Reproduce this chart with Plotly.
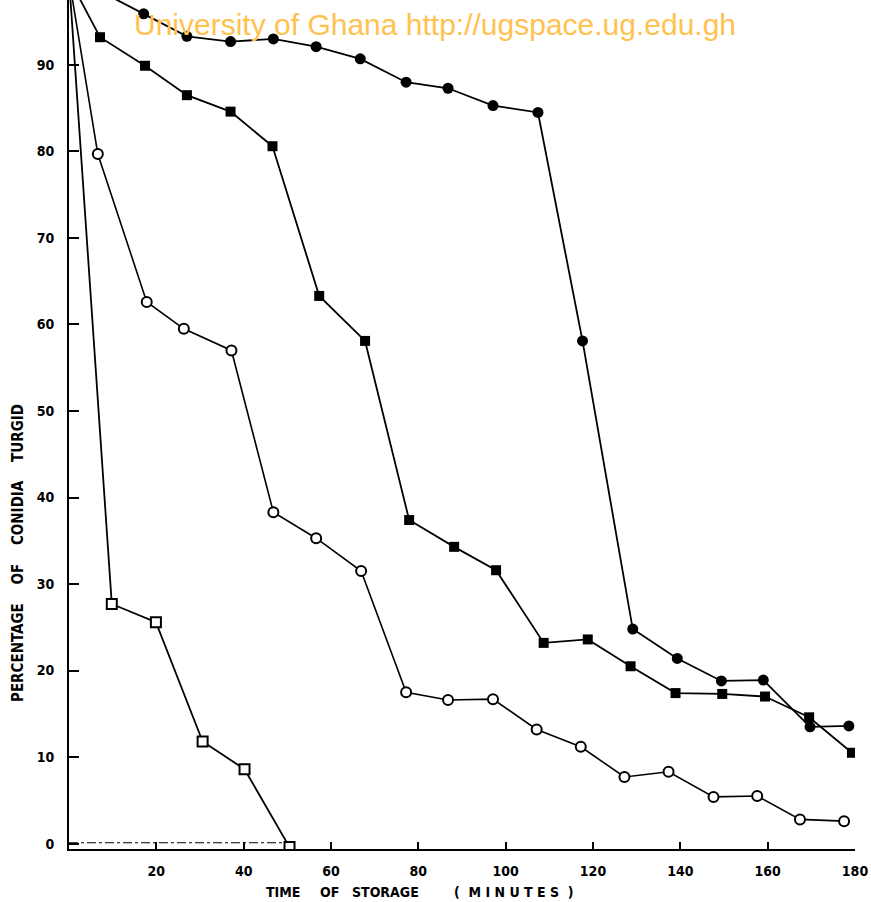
import plotly.graph_objects as go

# ---- data ----
fc_x = [0, 7.2, 17.1, 27.0, 37.0, 46.8, 56.6, 66.7, 77.2, 86.8, 97.1, 107.4, 117.6, 129.1, 139.3, 149.4, 159.0, 169.7, 178.6]
fc_y = [100, 98.5, 95.9, 93.3, 92.7, 93.0, 92.1, 90.7, 88.0, 87.3, 85.3, 84.5, 58.1, 24.8, 21.4, 18.8, 18.9, 13.5, 13.6]

fs_x = [0, 7.1, 17.4, 27.0, 37.0, 46.6, 57.3, 67.8, 77.9, 88.2, 97.8, 108.7, 118.8, 128.6, 138.9, 149.6, 159.4, 169.5, 179.3]
fs_y = [100, 93.2, 89.9, 86.5, 84.6, 80.6, 63.3, 58.1, 37.4, 34.3, 31.6, 23.2, 23.6, 20.5, 17.4, 17.3, 17.0, 14.6, 10.5]

oc_x = [0, 6.6, 17.8, 26.3, 37.2, 46.8, 56.6, 66.9, 77.2, 86.8, 97.1, 107.1, 117.2, 127.2, 137.3, 147.6, 157.6, 167.4, 177.5]
oc_y = [100, 79.7, 62.6, 59.5, 57.0, 38.3, 35.3, 31.5, 17.5, 16.6, 16.7, 13.2, 11.2, 7.7, 8.3, 5.4, 5.5, 2.8, 2.6]

os_x = [0, 9.8, 19.9, 30.6, 40.2, 50.5]
os_y = [100, 27.7, 25.6, 11.8, 8.6, -0.4]

base_x = [0, 51]
base_y = [0.1, 0.1]

x_ticks = [20, 40, 60, 80, 100, 120, 140, 160, 180]
y_ticks = [0, 10, 20, 30, 40, 50, 60, 70, 80, 90]

FONT = "DejaVu Sans Condensed"
L, R, T, B = 69, 16, 0, 53
W, H = 871, 902
PW, PH = W - L - R, H - T - B

fig = go.Figure()

fig.add_trace(go.Scatter(x=base_x, y=base_y, mode="lines",
                         line=dict(color="black", width=1.2, dash="dashdot"),
                         hoverinfo="skip", showlegend=False))

fig.add_trace(go.Scatter(x=fc_x, y=fc_y, mode="lines+markers",
                         line=dict(color="black", width=1.8),
                         marker=dict(symbol="circle", size=11, color="black"),
                         showlegend=False))
fig.add_trace(go.Scatter(x=fs_x, y=fs_y, mode="lines+markers",
                         line=dict(color="black", width=1.8),
                         marker=dict(symbol="square", size=10, color="black"),
                         showlegend=False))
fig.add_trace(go.Scatter(x=oc_x, y=oc_y, mode="lines+markers",
                         line=dict(color="black", width=1.6),
                         marker=dict(symbol="circle", size=10, color="white",
                                     line=dict(color="black", width=2)),
                         showlegend=False))
fig.add_trace(go.Scatter(x=os_x, y=os_y, mode="lines+markers",
                         line=dict(color="black", width=1.8),
                         marker=dict(symbol="square", size=10, color="white",
                                     line=dict(color="black", width=2)),
                         showlegend=False))

fig.update_layout(
    width=W, height=H,
    margin=dict(l=L, r=R, t=T, b=B, autoexpand=False),
    paper_bgcolor="white", plot_bgcolor="white",
    xaxis=dict(range=[0, 180], tickvals=x_ticks, ticktext=[str(v) for v in x_ticks],
               showgrid=False, zeroline=False, showline=True, linecolor="black", linewidth=2,
               ticks="inside", ticklen=7, tickwidth=2, tickcolor="black",
               tickfont=dict(family=FONT, size=14, color="black", weight="bold"),
               ticklabelstandoff=8, automargin=False),
    yaxis=dict(range=[-0.62, 97.5], tickvals=y_ticks, ticktext=[str(v) for v in y_ticks],
               showgrid=False, zeroline=False, showline=True, linecolor="black", linewidth=2,
               ticks="inside", ticklen=10, tickwidth=2, tickcolor="black",
               tickfont=dict(family=FONT, size=14, color="black", weight="bold"),
               ticklabelstandoff=10, automargin=False),
)


def px_x(p):
    return (p - L) / PW


def px_y(p):
    return 1 - (p - T) / PH


nb = "\u00a0"
title_font = dict(family=FONT, size=14, color="black", weight="bold")
for word, left in [("TIME", 264), ("OF", 318), ("STORAGE", 350),
                   ("(" + nb * 2 + nb.join("MINUTES") + nb * 2 + ")", 452)]:
    fig.add_annotation(text=word, xref="paper", yref="paper", x=px_x(left), y=px_y(892),
                       xanchor="left", yanchor="middle", showarrow=False, font=title_font)

ytitle = "PERCENTAGE" + nb * 4 + "OF" + nb * 4 + "CONIDIA" + nb * 4 + "TURGID"
fig.add_annotation(text=ytitle, xref="paper", yref="paper", x=px_x(18), y=px_y(553),
                   xanchor="center", yanchor="middle", textangle=-90, showarrow=False,
                   font=dict(family=FONT, size=15, color="black", weight="bold"))

fig.add_annotation(text="University of Ghana http://ugspace.ug.edu.gh", xref="paper", yref="paper",
                   x=px_x(435), y=px_y(25), xanchor="center", yanchor="middle",
                   showarrow=False, font=dict(family="Liberation Sans", size=30, color="#FFC24F"))

fig.write_html("out.html", config={"displayModeBar": False},
               post_script="document.body.style.margin='0px';")
